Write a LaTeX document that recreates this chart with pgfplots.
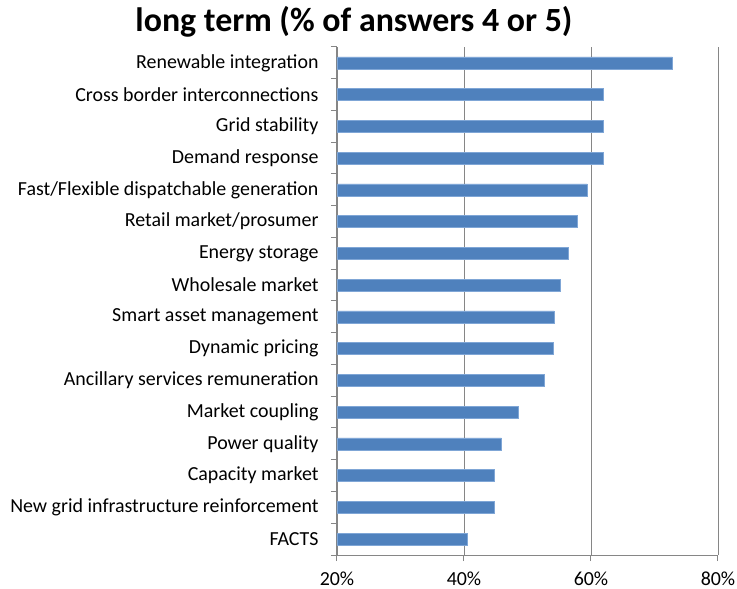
\documentclass[border=0pt]{standalone}
\usepackage{pgfplots}
\pgfplotsset{compat=1.18}
\usepackage{fontspec}
\setmainfont{Carlito}

\definecolor{barblue}{HTML}{4F81BD}
\definecolor{baredge}{HTML}{7FA6D6}
\definecolor{gridgray}{HTML}{868686}

% share of answers 4 or 5, bottom (FACTS) to top
\pgfplotstableread{
idx value
0 40.5
1 44.8
2 44.8
3 45.9
4 48.6
5 52.7
6 54.0
7 54.2
8 55.1
9 56.4
10 57.8
11 59.4
12 62.0
13 62.0
14 62.0
15 72.8
}\longterm

\begin{document}
\begin{tikzpicture}
\useasboundingbox (-337bp,-34bp) rectangle (400bp,555bp);
\begin{axis}[
    at={(0,0)}, anchor=south west,
    scale only axis, width=381bp, height=508bp,
    xbar, bar width=12bp,
    xmin=20, xmax=80, ymin=-0.5, ymax=15.5,
    axis x line*=bottom, axis y line*=left,
    axis line style={-, draw=gridgray, line width=1bp},
    xtick={20,40,60,80},
    xticklabels={20\%,40\%,60\%,80\%},
    xmajorgrids, grid style={draw=gridgray, line width=0.9bp},
    tick align=outside, major tick length=6bp,
    tick style={draw=gridgray, line width=1bp},
    ytick={-0.5,0.5,...,15.5}, yticklabels={},
    extra y ticks={0,...,15},
    extra y tick labels={FACTS, New grid infrastructure reinforcement,
        Capacity market, Power quality, Market coupling,
        Ancillary services remuneration, Dynamic pricing,
        Smart asset management, Wholesale market, Energy storage,
        Retail market/prosumer, Fast/Flexible dispatchable generation,
        Demand response, Grid stability, Cross border interconnections,
        Renewable integration},
    extra y tick style={major tick length=0pt},
    ticklabel style={font=\fontsize{20}{23}\selectfont},
    yticklabel style={xshift=-15bp},
    xticklabel style={yshift=-7bp},
]
\addplot[fill=barblue, draw=baredge, line width=0.6bp] table[x=value, y=idx] {\longterm};
\end{axis}
\node[font=\bfseries\fontsize{34}{38}\selectfont] at (17bp,533bp) {long term (\% of answers 4 or 5)};
\end{tikzpicture}
\end{document}
